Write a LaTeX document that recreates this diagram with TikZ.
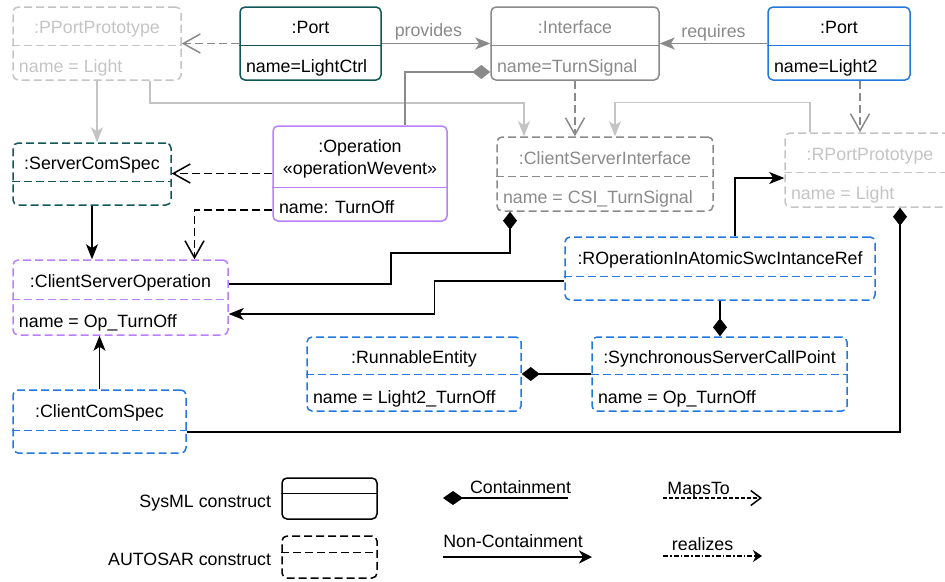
\documentclass[tikz,border=0pt]{standalone}
\usepackage{fontspec}
\setmainfont{Liberation Sans}
\usetikzlibrary{arrows.meta}
\usetikzlibrary{calc}

\definecolor{tealc}{RGB}{18,86,86}
\definecolor{bluec}{RGB}{34,120,224}
\definecolor{purplec}{RGB}{184,128,255}
\definecolor{grayc}{RGB}{138,138,138}
\definecolor{lightc}{RGB}{196,196,196}

% class box: name, style, centre, width, height, height of top part, title, attribute
\newcommand{\umlbox}[8]{%
  \node[#2, minimum width=#4, minimum height=#5] (#1) at (#3) {};
  \draw[#2] ([yshift=-#6]#1.north west) -- ([yshift=-#6]#1.north east);
  \node[#2, draw=none, anchor=base] (#1-title) at ([yshift=-#6/2-8]#1.north) {#7};
  \node[#2, draw=none, anchor=base west] (#1-attr) at ([xshift=6,yshift=8]#1.south west) {#8};
}

\begin{document}
\begin{tikzpicture}[x=1pt, y=-1pt, every node/.style={font=\fontsize{17.8}{21}\selectfont, inner sep=0pt}]
\tikzstyle{sysml}=[draw, rounded corners=5pt, line width=1.5pt]
\tikzstyle{autosar}=[sysml, dash pattern=on 8pt off 4pt]
\tikzstyle{link}=[line width=1.5pt]
\tikzstyle{nonc}=[link, -{Stealth[length=15pt, width=12pt, inset=4pt]}]
\tikzstyle{contain}=[link, -{Diamond[length=18pt, width=14pt]}]
\tikzstyle{mapsto}=[link, dash pattern=on 8pt off 4pt, -{Straight Barb[length=17pt, width=19pt]}]
\useasboundingbox (0,0) rectangle (945,581);

% top row
\umlbox{ppp}{autosar, draw=lightc, text=lightc}{97,43.5}{168}{73}{39}{:PPortPrototype}{name = Light}
\umlbox{port1}{sysml, draw=tealc}{310.5,43.5}{141}{73}{39}{:Port}{name=LightCtrl}
\umlbox{intf}{sysml, draw=grayc, text=grayc}{575,43.5}{168}{73}{39}{:Interface}{name=TurnSignal}
\umlbox{port2}{sysml, draw=bluec}{839,43.5}{142}{73}{39}{:Port}{name=Light2}

% second row
\umlbox{scs}{autosar, draw=tealc}{92,174}{158}{62}{39}{:ServerComSpec}{}
\umlbox{oper}{sysml, draw=purplec}{360,173.5}{174}{95}{62}{}{name: TurnOff}
\node[anchor=base] (oper-name) at ([yshift=-27]oper.north) {:Operation};
\node[anchor=base] (oper-stereo) at ([yshift=-22]oper-name.base) {«operationWevent»};
\umlbox{csi}{autosar, draw=grayc, text=grayc}{605,174}{216}{74}{40}{:ClientServerInterface}{name = CSI\_TurnSignal}
\umlbox{rpp}{autosar, draw=lightc, text=lightc}{870,170}{170}{74}{40}{:RPortPrototype}{name = Light}

% lower part
\umlbox{cso}{autosar, draw=purplec}{120.5,297.5}{215}{75}{40}{:ClientServerOperation}{name = Op\_TurnOff}
\umlbox{roir}{autosar, draw=bluec}{720,268.5}{310}{63}{40}{:ROperationInAtomicSwcIntanceRef}{}
\umlbox{rune}{autosar, draw=bluec}{414,374}{214}{74}{38}{:RunnableEntity}{name = Light2\_TurnOff}
\umlbox{sscp}{autosar, draw=bluec}{719.5,374}{255}{74}{38}{:SynchronousServerCallPoint}{name = Op\_TurnOff}
\umlbox{ccs}{autosar, draw=bluec}{99.5,421.5}{173}{63}{41}{:ClientComSpec}{}

% connectors
\draw[mapsto, grayc] (port1.west) -- (ppp.east);
\draw[nonc, grayc] (port1.east) -- node[anchor=base, pos=0.43, yshift=7.5pt, text=grayc] {provides} (intf.west);
\draw[nonc, grayc] (port2.west) -- node[anchor=base, yshift=6.5pt, text=grayc] {requires} (intf.east);
\draw[mapsto, grayc] (intf.south) -- (intf.south |- csi.north);
\draw[mapsto, grayc] ([xshift=21]port2.south) -- ([xshift=21]port2.south |- rpp.north);
\draw[nonc, lightc] (ppp.south) -- (ppp.south |- scs.north);
\draw[nonc, lightc] ([xshift=53]ppp.south) -- ++(0,22) -| ([xshift=-81]csi.north);
\draw[nonc, lightc] ([xshift=-60]rpp.north) -- ++(0,-30) -| ([xshift=10]csi.north);
\draw[contain, grayc] ([xshift=45]oper.north) |- ([yshift=-28.5]intf.west);
\draw[mapsto] (oper.west) -- (oper.west -| scs.east);
\draw[mapsto] ([yshift=12]oper.south west) -| ([xshift=74]cso.north);
\draw[nonc] (scs.south) -- (scs.south |- cso.north);
\draw[nonc] (ccs.north) -- (ccs.north |- cso.south);
\draw[contain] ([yshift=13.5]cso.east) -- ++(162,0) -- ++(0,-31) -| ([xshift=-95]csi.south);
\draw[nonc] ([yshift=-12.5]roir.west) -- ++(-130,0) |- ([yshift=-16.5]cso.east);
\draw[nonc] ([xshift=15]roir.north) |- ([yshift=-8]rpp.west);
\draw[contain] (roir.south) -- (roir.south |- sscp.north);
\draw[contain] (sscp.west) -- (rune.east);
\draw[contain] ([yshift=-10.5]ccs.east) -| ([xshift=30]rpp.south);

% legend
\umlbox{sysmlkey}{sysml}{329.5,498.5}{95}{41}{16}{}{}
\umlbox{autosarkey}{autosar}{329.5,557}{95}{42}{17}{}{}
\node[anchor=base east] (sysmllabel) at ([xshift=-10,yshift=-8.5]sysmlkey.west) {SysML construct};
\node[anchor=base east] (autosarlabel) at ([xshift=-10,yshift=-8]autosarkey.west) {AUTOSAR construct};
\coordinate (contA) at (443,498);
\coordinate (contB) at (568,498);
\coordinate (noncA) at (443,557);
\coordinate (noncB) at (592,557);
\coordinate (mapsA) at (663,498);
\coordinate (mapsB) at (762,498);
\coordinate (realA) at (663,556);
\coordinate (realB) at (762,556);
\draw[link, -{Diamond[length=20pt, width=14pt]}] (contB) -- node[anchor=base, pos=0.38, yshift=5pt] {Containment} (contA);
\draw[link, -{Stealth[length=13pt, width=13pt, inset=4pt]}] (noncA) -- node[anchor=base, pos=0.47, yshift=10pt] {Non-Containment} (noncB);
\draw[link, dash pattern=on 4pt off 2pt, -{Straight Barb[length=10pt, width=15pt]}] (mapsA) -- node[anchor=base, pos=0.36, yshift=3.5pt] {MapsTo} (mapsB);
\draw[link, dash pattern=on 5pt off 2pt on 1.5pt off 2pt, -{Stealth[length=9pt, width=12pt, inset=3pt]}] (realA) -- node[anchor=base, pos=0.4, yshift=6pt] {realizes} (realB);
\end{tikzpicture}
\end{document}
